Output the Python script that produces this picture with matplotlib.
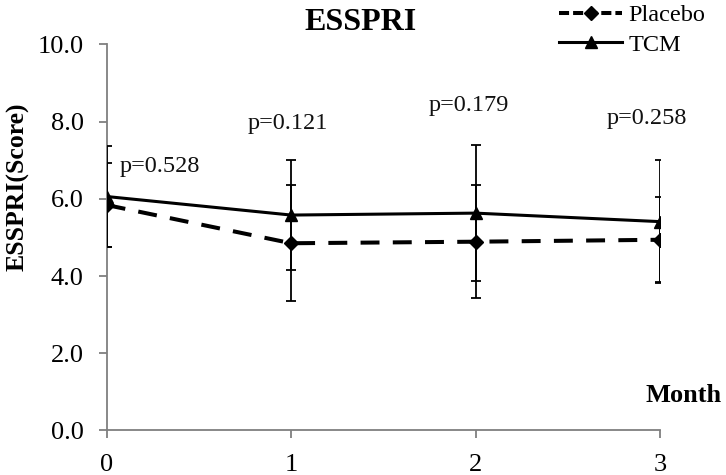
import matplotlib
matplotlib.use("Agg")
import matplotlib.pyplot as plt
from matplotlib.lines import Line2D

months = [0, 1, 2, 3]
placebo_mean = [5.84, 4.85, 4.89, 4.94]
placebo_sd = [1.08, 1.50, 1.47, 1.10]
tcm_mean = [6.06, 5.58, 5.63, 5.41]
tcm_sd = [1.31, 1.43, 1.77, 1.60]
p_labels = ["p=0.528", "p=0.121", "p=0.179", "p=0.258"]
p_x = [0.07, 0.98, 1.965, 2.93]
p_y = [6.85, 7.95, 8.43, 8.07]
yticks = [0, 2, 4, 6, 8, 10]

serif = ["Liberation Serif", "DejaVu Serif"]
plt.rcParams['font.family'] = serif

fig = plt.figure(figsize=(7.26, 4.75), dpi=100)
ax = fig.add_axes([0.147, 0.0937, 0.762, 0.8128])

ax.errorbar(months, placebo_mean, yerr=placebo_sd, color='black', lw=2.9,
            dashes=(4.7, 3.3), marker='D', markersize=7.5, ecolor='black',
            elinewidth=1.3, capsize=3.8, capthick=1.3, zorder=3)
ax.errorbar(months, tcm_mean, yerr=tcm_sd, color='black', lw=2.2,
            marker='^', markersize=9, ecolor='black',
            elinewidth=1.3, capsize=3.8, capthick=1.3, zorder=3)

for t, x, y in zip(p_labels, p_x, p_y):
    ha = 'left' if x < 0.5 else 'center'
    ax.text(x, y, t, ha=ha, va='center', fontsize=17.5, color='#111111')

ax.set_xlim(0, 3)
ax.set_ylim(0, 10)
ax.set_xticks(months)
ax.set_yticks(yticks)
ax.set_yticklabels([f"{v:.1f}" for v in yticks])
for s in ['top', 'right']:
    ax.spines[s].set_visible(False)
for s in ['left', 'bottom']:
    ax.spines[s].set_color('#7f7f7f')
    ax.spines[s].set_linewidth(1.3)
ax.tick_params(axis='both', colors='#7f7f7f', labelcolor='black', labelsize=19,
               width=1.3)
ax.tick_params(axis='y', length=5.5, pad=11)
ax.tick_params(axis='x', length=6, pad=11)

fig.text(0.496, 0.953, "ESSPRI", ha='center', va='center', fontsize=23,
         fontweight='bold')
fig.text(0.025, 0.607, "ESSPRI(Score)", ha='center', va='center', fontsize=18.5,
         fontweight='bold', rotation=90)
fig.text(0.942, 0.168, "Month", ha='center', va='center', fontsize=19,
         fontweight='bold')

handles = [
    Line2D([], [], color='black', lw=2.9, dashes=(2.5, 1.0), marker='D', markersize=7.5),
    Line2D([], [], color='black', lw=2.2, marker='^', markersize=9),
]
leg = fig.legend(handles, ["Placebo", "TCM"], loc='upper left',
                 bbox_to_anchor=(0.757, 1.012), frameon=False, fontsize=17.5,
                 handlelength=2.6, handletextpad=0.25, labelspacing=0.32,
                 borderaxespad=0)

fig.savefig("out.png", dpi=100)
